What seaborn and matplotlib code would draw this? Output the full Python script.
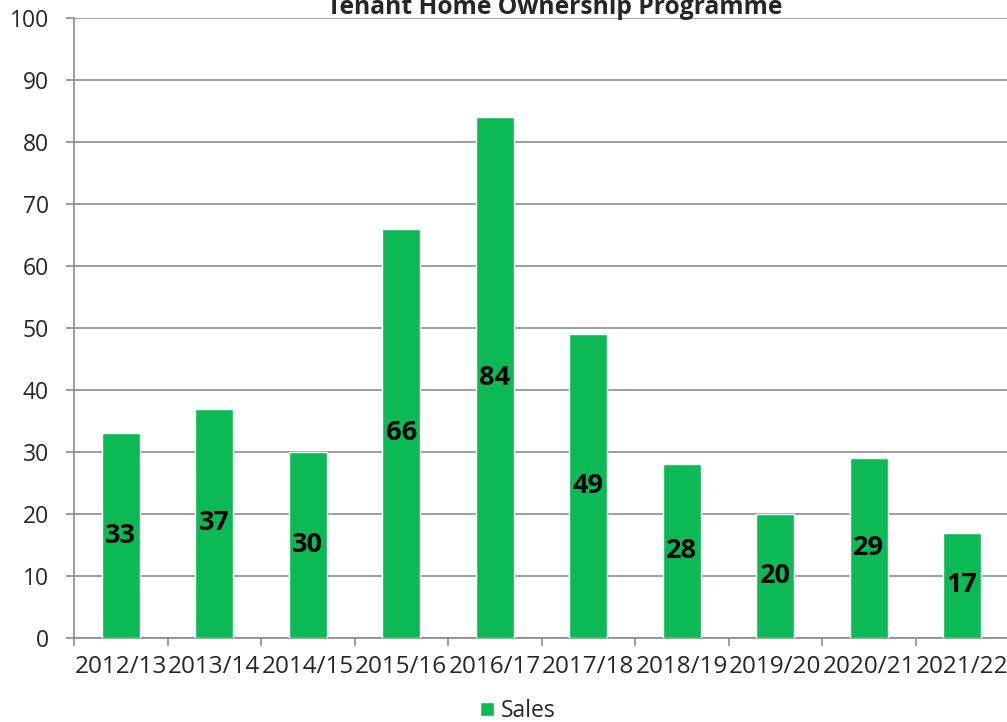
import numpy as np
import pandas as pd
import matplotlib
matplotlib.use('Agg')
import matplotlib.pyplot as plt
from matplotlib.patches import Patch
import seaborn as sns

years = ['2012/13', '2013/14', '2014/15', '2015/16', '2016/17',
         '2017/18', '2018/19', '2019/20', '2020/21', '2021/22']
sales = [33, 37, 30, 66, 84, 49, 28, 20, 29, 17]
title = 'Tenant Home Ownership Programme'
bar_color = '#0BBA54'
grid_color = '#8C8C8C'

sns.set_theme(style='white')
plt.rcParams['font.family'] = ['Open Sans', 'DejaVu Sans']

df = pd.DataFrame({'year': years, 'sales': sales})

fig = plt.figure(figsize=(10.07, 7.22), dpi=100)
ax = fig.add_axes([74 / 1007, 84 / 722, 935 / 1007, 620 / 722])

sns.barplot(data=df, x='year', y='sales', color=bar_color, width=0.41,
            saturation=1, ax=ax, zorder=3)

# value labels in the middle of each bar
for i, v in enumerate(sales):
    ax.text(i, v / 2, str(v), ha='center', va='center',
            fontsize=19.5, fontweight='bold', color='black', zorder=4)

ax.set_ylim(0, 100)
ax.set_xlim(-0.5, len(years) - 0.5)
ax.set_yticks(np.arange(0, 101, 10))
ax.yaxis.grid(True, color=grid_color, linewidth=1.2, zorder=0)
ax.xaxis.grid(False)

for side in ['top', 'right']:
    ax.spines[side].set_visible(False)
for side in ['left', 'bottom']:
    ax.spines[side].set_color(grid_color)
    ax.spines[side].set_linewidth(1.2)

ax.set_xlabel('')
ax.set_ylabel('')
ax.tick_params(axis='y', which='major', length=6, width=1.2, color=grid_color,
               labelsize=16.5, pad=12, left=True)
ax.tick_params(axis='x', which='major', length=0, labelsize=17.5, pad=12)
ax.set_xticks(np.arange(-0.5, len(years) + 0.5, 1), minor=True)
ax.tick_params(axis='x', which='minor', length=6, width=1.2, color=grid_color,
               bottom=True)

fig.text(555 / 1007, 1 - 14 / 722, title, ha='center', va='baseline',
         fontsize=17.7, fontweight='bold')

handles = [Patch(facecolor=bar_color, label='Sales')]
fig.legend(handles=handles, loc='center', bbox_to_anchor=(518 / 1007, 1 - 711 / 722),
           frameon=False, fontsize=16.5, handlelength=0.6, handleheight=0.6,
           handletextpad=0.3)

fig.savefig('out.png', dpi=100)
